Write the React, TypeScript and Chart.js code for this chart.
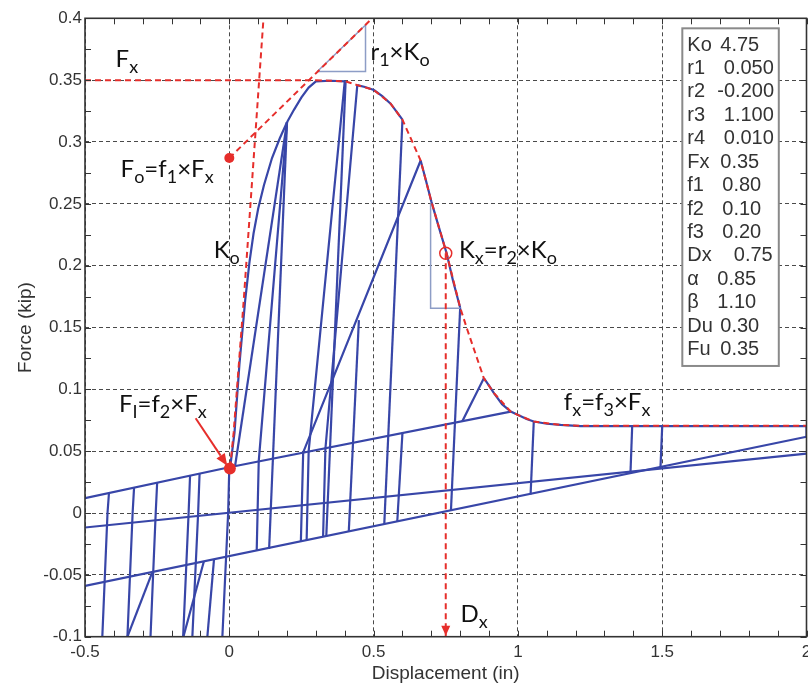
import React, { useEffect, useRef } from 'react';
import { Chart, registerables } from 'chart.js';

Chart.register(...registerables);

type P = [number, number];

// ---------- axes ----------
const xTickValues = [-0.5, 0, 0.5, 1, 1.5, 2];
const xTickLabels = ['-0.5', '0', '0.5', '1', '1.5', '2'];
const yTickValues = [-0.1, -0.05, 0, 0.05, 0.1, 0.15, 0.2, 0.25, 0.3, 0.35, 0.4];
const yTickLabels = ['-0.1', '-0.05', '0', '0.05', '0.1', '0.15', '0.2', '0.25', '0.3', '0.35', '0.4'];
const xMinorTicks = [-0.4, -0.3, -0.2, -0.1, 0.1, 0.2, 0.3, 0.4, 0.6, 0.7, 0.8, 0.9, 1.1, 1.2, 1.3, 1.4, 1.6, 1.7, 1.8, 1.9];
const yMinorTicks = [-0.075, -0.025, 0.025, 0.075, 0.125, 0.175, 0.225, 0.275, 0.325, 0.375];

// ---------- blue hysteresis response ----------
const firstLoading: P[] = [[0.003, 0.037], [0.018, 0.065], [0.035, 0.12], [0.055, 0.172], [0.07, 0.203], [0.084, 0.226], [0.1, 0.246], [0.12, 0.265], [0.148, 0.287], [0.175, 0.303], [0.2, 0.316]];
const envelopePeak: P[] = [[0.2, 0.316], [0.224, 0.326], [0.25, 0.336], [0.275, 0.344], [0.3, 0.349], [0.35, 0.3495], [0.403, 0.349]];
const envelopePost: P[] = [[0.4435, 0.346], [0.47, 0.3445], [0.501, 0.342], [0.53, 0.337], [0.559, 0.331], [0.6, 0.318]];
const envelopeSoft: P[] = [[0.663, 0.285], [0.68, 0.27], [0.7, 0.252], [0.725, 0.232], [0.753, 0.21], [0.775, 0.188], [0.8, 0.166]];
const envelopeTail: P[] = [[0.882, 0.109], [0.9, 0.103], [0.917, 0.097], [0.945, 0.088], [0.975, 0.082], [1.003, 0.079], [1.03, 0.076], [1.055, 0.074], [1.1, 0.0722], [1.148, 0.0712], [1.217, 0.0702], [2, 0.0702]];

const unloadLines: P[][] = [
  [[0.2, 0.316], [0.138, -0.029]],
  [[0.403, 0.349], [0.336, -0.019]],
  [[0.6, 0.318], [0.537, -0.009]],
  [[0.8, 0.166], [0.768, 0.002]],
  [[1.055, 0.074], [1.044, 0.015]],
  [[1.396, 0.0702], [1.39, 0.032]],
  [[1.5, 0.0702], [1.494, 0.0367]],
  [[2, 0.0617], [2, 0.0702]],
];

const reloadLines: P[][] = [
  [[0.02, 0.038], [0.2, 0.316]],
  [[0.095, -0.0304], [0.102, 0.042], [0.2, 0.316]],
  [[0.268, -0.022], [0.275, 0.05], [0.4, 0.349]],
  [[0.325, -0.019], [0.333, 0.052], [0.4435, 0.346]],
  [[0.248, -0.023], [0.256, 0.049], [0.663, 0.285]],
  [[0.414, -0.015], [0.449, 0.156]],
  [[0.582, -0.007], [0.6, 0.065]],
  [[0.807, 0.074], [0.882, 0.109]],
];

const pinchUpper: P[] = [[-0.5, 0.012], [0, 0.037], [0.975, 0.082]];
const pinchMiddle: P[] = [[-0.5, -0.0117], [2, 0.048]];
const pinchLower: P[] = [[-0.5, -0.059], [2, 0.0617]];

const negativeUnloads: P[][] = [
  [[-0.44, -0.1], [-0.422, 0.0], [-0.417, 0.016]],
  [[-0.353, -0.1], [-0.335, 0.0], [-0.33, 0.0205]],
  [[-0.273, -0.1], [-0.255, 0.0], [-0.25, 0.0245]],
  [[-0.16, -0.1], [-0.141, 0.0], [-0.136, 0.03]],
  [[-0.128, -0.1], [-0.108, 0.0], [-0.103, 0.032]],
  [[-0.024, -0.1], [-0.004, 0.0], [0.0, 0.037]],
];
const negativeReloads: P[][] = [
  [[-0.267, -0.048], [-0.353, -0.1]],
  [[-0.088, -0.039], [-0.159, -0.1]],
  [[-0.053, -0.0375], [-0.076, -0.1]],
];

// ---------- red construction lines ----------
const fxLine: P[] = [[-0.5, 0.35], [0.3, 0.35]];
const koLine: P[] = [[0.003, 0.037], [0.015, 0.065], [0.05, 0.172], [0.1185, 0.4]];
const foLine: P[] = [[0, 0.287], [0.495, 0.4]];
const envelopeDashed: P[] = [[0.3, 0.35], [0.35, 0.3495], [0.403, 0.349], [0.4435, 0.346], [0.501, 0.342], [0.559, 0.331], [0.6, 0.318], [0.663, 0.285], [0.7, 0.252], [0.753, 0.21], [0.8, 0.166], [0.825, 0.148], [0.882, 0.109], [0.917, 0.097], [0.975, 0.082], [1.003, 0.079], [1.055, 0.074], [1.148, 0.0712], [1.217, 0.0706], [2, 0.0706]];
const dxLine: P[] = [[0.75, 0.21], [0.75, -0.1]];
const fiArrow: P[] = [[-0.1166, 0.0766], [-0.007, 0.0383]];

const foPoint: P = [0, 0.287];
const fiPoint: P = [0.002, 0.036];
const kxPoint: P = [0.75, 0.21];

// ---------- slope triangles ----------
const r1Triangle: P[] = [[0.305, 0.357], [0.472, 0.3946], [0.472, 0.357], [0.305, 0.357]];
const kxTriangle: P[] = [[0.6975, 0.2504], [0.6975, 0.1655], [0.8, 0.1655]];

// ---------- annotations ----------
const annotationAnchors: P[] = [[-0.394, 0.3606], [0.489, 0.3663], [-0.3767, 0.2719], [-0.054, 0.2062], [0.7956, 0.206], [-0.3825, 0.0819], [1.159, 0.0833], [0.8015, -0.0879]];
const annotationParts: [string, number][][] = [
  [['F', 0], ['x', 1]],
  [['r', 0], ['1', 1], ['×K', 0], ['o', 1]],
  [['F', 0], ['o', 1], ['=f', 0], ['1', 1], ['×F', 0], ['x', 1]],
  [['K', 0], ['o', 1]],
  [['K', 0], ['x', 1], ['=r', 0], ['2', 1], ['×K', 0], ['o', 1]],
  [['F', 0], ['I', 1], ['=f', 0], ['2', 1], ['×F', 0], ['x', 1]],
  [['f', 0], ['x', 1], ['=f', 0], ['3', 1], ['×F', 0], ['x', 1]],
  [['D', 0], ['x', 1]],
];

const paramNames = ['Ko', 'r1', 'r2', 'r3', 'r4', 'Fx', 'f1', 'f2', 'f3', 'Dx', 'α', 'β', 'Du', 'Fu'];
const paramValues = ['4.75', '0.050', '-0.200', '1.100', '0.010', '0.35', '0.80', '0.10', '0.20', '0.75', '0.85', '1.10', '0.30', '0.35'];
const paramValueOffsets = [33, 36.5, 30, 36.5, 36.5, 33, 35, 35, 35, 46.5, 30, 30, 33, 33];
const paramBox: P[] = [[1.5697, 0.3919], [1.904, 0.1189]];

const BLUE = '#3846a8';
const RED = '#e62e2b';
const STEEL = '#8d9dc6';
const INK = '#333333';
const TICK_FONT = { family: 'Liberation Sans, Arial, sans-serif', size: 17 };
const TITLE_FONT = { family: 'Liberation Sans, Arial, sans-serif', size: 19 };

const toXY = (pts: P[]) => pts.map(([x, y]) => ({ x, y }));
const lineDs = (pts: P[], color: string, width: number, order: number, dash: number[] = []) => ({
  data: toXY(pts),
  borderColor: color,
  borderWidth: width,
  borderDash: dash,
  pointRadius: 0,
  pointHoverRadius: 0,
  fill: false,
  tension: 0,
  order,
});

const zeroPad = (s: any) => {
  s.paddingLeft = 0;
  s.paddingRight = 0;
  s.paddingTop = 0;
  s.paddingBottom = 0;
};

const overlay = {
  id: 'overlay',
  afterDatasetsDraw(chart: any) {
    const { ctx, chartArea: a, scales } = chart;
    const X = (v: number) => scales.x.getPixelForValue(v);
    const Y = (v: number) => scales.y.getPixelForValue(v);
    ctx.save();

    // red markers
    ctx.fillStyle = RED;
    ctx.beginPath();
    ctx.arc(X(foPoint[0]), Y(foPoint[1]), 5, 0, Math.PI * 2);
    ctx.fill();
    ctx.beginPath();
    ctx.arc(X(fiPoint[0]), Y(fiPoint[1]), 6, 0, Math.PI * 2);
    ctx.fill();
    ctx.strokeStyle = RED;
    ctx.lineWidth = 1.5;
    ctx.beginPath();
    ctx.arc(X(kxPoint[0]), Y(kxPoint[1]), 6, 0, Math.PI * 2);
    ctx.stroke();

    // F_I arrow
    const ax0 = X(fiArrow[0][0]), ay0 = Y(fiArrow[0][1]);
    const ax1 = X(fiArrow[1][0]), ay1 = Y(fiArrow[1][1]);
    const ang = Math.atan2(ay1 - ay0, ax1 - ax0);
    const hl = 12, hw = 5;
    ctx.lineWidth = 2;
    ctx.beginPath();
    ctx.moveTo(ax0, ay0);
    ctx.lineTo(ax1 - hl * Math.cos(ang), ay1 - hl * Math.sin(ang));
    ctx.stroke();
    ctx.beginPath();
    ctx.moveTo(ax1, ay1);
    ctx.lineTo(ax1 - hl * Math.cos(ang) - hw * Math.sin(ang), ay1 - hl * Math.sin(ang) + hw * Math.cos(ang));
    ctx.lineTo(ax1 - hl * Math.cos(ang) + hw * Math.sin(ang), ay1 - hl * Math.sin(ang) - hw * Math.cos(ang));
    ctx.closePath();
    ctx.fill();

    // D_x arrow head
    const dx = X(dxLine[1][0]), dy = Y(dxLine[1][1]) - 1;
    ctx.beginPath();
    ctx.moveTo(dx, dy);
    ctx.lineTo(dx - 4.5, dy - 10);
    ctx.lineTo(dx + 4.5, dy - 10);
    ctx.closePath();
    ctx.fill();

    // annotations
    ctx.fillStyle = '#111';
    ctx.textBaseline = 'alphabetic';
    ctx.textAlign = 'left';
    annotationAnchors.forEach((p, i) => {
      let cx = X(p[0]);
      const by = Y(p[1]);
      for (const [t, sub] of annotationParts[i]) {
        ctx.font = sub ? '18px Lato' : '24px Lato';
        ctx.fillText(t, cx, sub ? by + 6 : by);
        cx += ctx.measureText(t).width;
      }
    });

    // parameter box
    const bx0 = X(paramBox[0][0]), by0 = Y(paramBox[0][1]);
    const bx1 = X(paramBox[1][0]), by1 = Y(paramBox[1][1]);
    ctx.fillStyle = '#fff';
    ctx.fillRect(bx0, by0, bx1 - bx0, by1 - by0);
    ctx.strokeStyle = '#8a8a8a';
    ctx.lineWidth = 2;
    ctx.strokeRect(bx0, by0, bx1 - bx0, by1 - by0);
    ctx.fillStyle = INK;
    ctx.font = '20px "Liberation Sans", Arial, sans-serif';
    ctx.textBaseline = 'middle';
    paramNames.forEach((n, i) => {
      const ry = by0 + 16.7 + i * 23.43;
      ctx.fillText(n, bx0 + 5, ry);
      ctx.fillText(paramValues[i], bx0 + 5 + paramValueOffsets[i], ry);
    });

    // axes box and inward ticks
    ctx.strokeStyle = INK;
    ctx.lineWidth = 1;
    const tl = 6;
    const xt = [...xTickValues, ...xMinorTicks];
    const yt = [...yTickValues, ...yMinorTicks];
    ctx.beginPath();
    xt.forEach((v) => {
      const px = Math.round(X(v)) + 0.5;
      ctx.moveTo(px, a.bottom); ctx.lineTo(px, a.bottom - tl);
      ctx.moveTo(px, a.top); ctx.lineTo(px, a.top + tl);
    });
    yt.forEach((v) => {
      const py = Math.round(Y(v)) + 0.5;
      ctx.moveTo(a.left, py); ctx.lineTo(a.left + tl, py);
      ctx.moveTo(a.right, py); ctx.lineTo(a.right - tl, py);
    });
    ctx.stroke();
    ctx.lineWidth = 1.6;
    ctx.strokeRect(a.left, a.top, a.right - a.left, a.bottom - a.top);
    ctx.restore();
  },
};

export default function App() {
  const ref = useRef<HTMLCanvasElement | null>(null);
  useEffect(() => {
    if (!ref.current) return;
    const blueSets = [
      firstLoading, envelopePeak, envelopePost, envelopeSoft, envelopeTail,
      pinchUpper, pinchMiddle, pinchLower,
      ...unloadLines, ...reloadLines, ...negativeUnloads, ...negativeReloads,
    ].map((s) => lineDs(s, BLUE, 2.2, 3));
    const steelSets = [r1Triangle, kxTriangle].map((s) => lineDs(s, STEEL, 1.5, 2));
    const redSets = [fxLine, koLine, foLine, envelopeDashed, dxLine].map((s) => lineDs(s, RED, 2, 1, [6, 4]));
    const chart = new Chart(ref.current, {
      type: 'line',
      data: { datasets: [...redSets, ...steelSets, ...blueSets] as any },
      options: {
        animation: false,
        responsive: false,
        devicePixelRatio: 1,
        events: [],
        layout: { padding: { top: 18.3, right: 1.5, left: 0, bottom: 0 }, autoPadding: false } as any,
        plugins: { legend: { display: false }, tooltip: { enabled: false } },
        scales: {
          x: {
            type: 'linear',
            min: -0.5,
            max: 2,
            afterBuildTicks: (s: any) => { s.ticks = xTickValues.map((v) => ({ value: v })); },
            afterFit: (s: any) => { s.height = 48.3; zeroPad(s); },
            ticks: { callback: (_v: any, i: number) => xTickLabels[i], padding: 5, font: TICK_FONT, color: INK, maxRotation: 0, autoSkip: false },
            grid: { color: '#4a4a4a', lineWidth: 1, drawTicks: false },
            border: { display: false, dash: [4, 3] },
            title: { display: true, text: 'Displacement (in)', font: TITLE_FONT, color: INK, padding: { top: 0, bottom: 0 } },
          },
          y: {
            type: 'linear',
            min: -0.1,
            max: 0.4,
            afterBuildTicks: (s: any) => { s.ticks = yTickValues.map((v) => ({ value: v })); },
            afterFit: (s: any) => { s.width = 85; zeroPad(s); },
            ticks: { callback: (_v: any, i: number) => yTickLabels[i], padding: 3, font: TICK_FONT, color: INK, autoSkip: false },
            grid: { color: '#4a4a4a', lineWidth: 1, drawTicks: false },
            border: { display: false, dash: [4, 3] },
            title: { display: true, text: 'Force (kip)', font: TITLE_FONT, color: INK, padding: { top: 14, bottom: 0 } },
          },
        },
      } as any,
      plugins: [overlay],
    });
    return () => chart.destroy();
  }, []);
  return (
    <div style={{ position: 'absolute', left: 0, top: 0, width: 808, height: 685, background: '#fff' }}>
      <canvas ref={ref} width={808} height={685} style={{ display: 'block' }} />
    </div>
  );
}
